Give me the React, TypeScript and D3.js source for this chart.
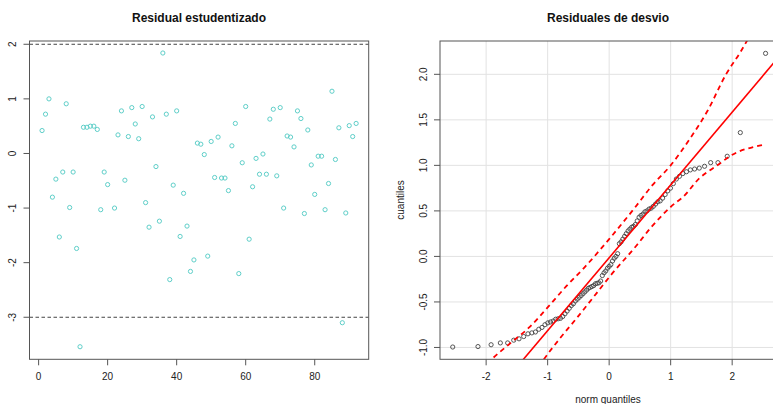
import { scaleLinear, line, curveMonotoneX } from "d3";

// left panel: studentized residuals by observation index (obs 21 is missing)
const studentized: (number | null)[] = [
  0.42, 0.72, 1.0, -0.8, -0.47, -1.53, -0.34, 0.91, -0.99, -0.34,
  -1.74, -3.54, 0.48, 0.48, 0.5, 0.5, 0.44, -1.03, -0.34, -0.57,
  null, -1.0, 0.34, 0.78, -0.49, 0.31, 0.84, 0.54, 0.27, 0.86,
  -0.9, -1.35, 0.67, -0.24, -1.24, 1.84, 0.72, -2.31, -0.58, 0.78,
  -1.52, -0.73, -1.33, -2.16, -1.95, 0.19, 0.17, -0.02, -1.88, 0.22,
  -0.44, 0.3, -0.45, -0.45, -0.68, 0.14, 0.55, -2.2, -0.17, 0.86,
  -1.57, -0.61, -0.09, -0.38, -0.01, -0.38, 0.63, 0.81, -0.41, 0.84,
  -1.0, 0.32, 0.3, 0.12, 0.78, 0.64, -1.1, 0.43, -0.21, -0.75,
  -0.05, -0.05, -1.03, -0.55, 1.14, -0.11, 0.47, -3.1, -1.09, 0.51,
  0.31, 0.55,
];
const studTicksX = [0, 20, 40, 60, 80];
const studTicksY = [-3, -2, -1, 0, 1, 2];
const studRefLines = [2, -3];

// right panel: sorted deviance residuals
const deviance = [
  -0.995, -0.99, -0.97, -0.95, -0.95, -0.92, -0.905, -0.88, -0.85, -0.84,
  -0.83, -0.8, -0.78, -0.75, -0.73, -0.72, -0.71, -0.69, -0.685, -0.68,
  -0.66, -0.63, -0.6, -0.57, -0.54, -0.52, -0.49, -0.47, -0.45, -0.43,
  -0.41, -0.39, -0.37, -0.35, -0.34, -0.33, -0.32, -0.3, -0.295, -0.29,
  -0.27, -0.21, -0.18, -0.16, -0.13, -0.11, -0.09, -0.05, -0.02, 0.0,
  0.03, 0.14, 0.16, 0.19, 0.22, 0.25, 0.28, 0.3, 0.32, 0.33,
  0.35, 0.39, 0.43, 0.45, 0.465, 0.49, 0.5, 0.52, 0.53, 0.55,
  0.575, 0.6, 0.61, 0.64, 0.68, 0.72, 0.75, 0.8, 0.85, 0.88,
  0.91, 0.93, 0.95, 0.96, 0.97, 0.99, 1.03, 1.03, 1.1, 1.36,
  2.23,
];
const qqTicksX = [-2, -1, 0, 1, 2];
const qqTicksY = [-1, -0.5, 0, 0.5, 1, 1.5, 2];
const qqIntercept = -0.015;
const qqSlope = 0.8;
const upperQ = [-2.54, -2.13, -1.91, -1.6, -1.3, -1.0, -0.7, -0.4, 0.0, 0.4, 0.7, 1.0, 1.3, 1.6, 1.9, 2.13, 2.35];
const upperV = [-1.5, -1.28, -1.13, -0.95, -0.78, -0.56, -0.33, -0.12, 0.19, 0.52, 0.78, 1.0, 1.28, 1.6, 2.0, 2.24, 2.5];
const lowerQ = [-1.3, -1.06, -0.8, -0.53, -0.2, 0.01, 0.445, 0.69, 1.1, 1.18, 1.47, 1.8, 1.96, 2.1, 2.34, 2.54];
const lowerV = [-1.38, -1.13, -0.9, -0.68, -0.4, -0.22, 0.12, 0.325, 0.6, 0.64, 0.86, 1.02, 1.1, 1.15, 1.2, 1.23];

// theoretical normal quantile (Acklam)
function qnorm(p: number) {
  const a = [-39.69683028665376, 220.9460984245205, -275.9285104469687, 138.357751867269, -30.66479806614716, 2.506628277459239];
  const b = [-54.47609879822406, 161.5858368580409, -155.6989798598866, 66.80131188771972, -13.28068155288572];
  const c = [-0.007784894002430293, -0.3223964580411365, -2.400758277161838, -2.549732539343734, 4.374664141464968, 2.938163982698783];
  const d = [0.007784695709041462, 0.3224671290700398, 2.445134137142996, 3.754408661907416];
  const pl = 0.02425;
  if (p < pl) {
    const q = Math.sqrt(-2 * Math.log(p));
    return (((((c[0] * q + c[1]) * q + c[2]) * q + c[3]) * q + c[4]) * q + c[5]) / ((((d[0] * q + d[1]) * q + d[2]) * q + d[3]) * q + 1);
  }
  if (p > 1 - pl) return -qnorm(1 - p);
  const q = p - 0.5;
  const r = q * q;
  return (((((a[0] * r + a[1]) * r + a[2]) * r + a[3]) * r + a[4]) * r + a[5]) * q / (((((b[0] * r + b[1]) * r + b[2]) * r + b[3]) * r + b[4]) * r + 1);
}

const font = "'Liberation Sans', Arial, sans-serif";
const axisColor = "#555";
const textColor = "#222";

export default function App() {
  const width = 773;
  const height = 404;
  const top = 41;
  const bottom = 359.3;

  // left panel
  const x1 = scaleLinear().domain([-2.64, 95.64]).range([29.5, 368.7]);
  const y1 = scaleLinear().domain([-3.77, 2.06]).range([bottom, top]);
  const studPts = studentized
    .map((v, i) => ({ i: i + 1, v }))
    .filter((d) => d.v !== null) as { i: number; v: number }[];

  // right panel
  const x2 = scaleLinear().domain([-2.75, 2.75]).range([440, 778.3]);
  const y2 = scaleLinear().domain([-1.13, 2.366]).range([bottom, top]);
  const n = deviance.length;
  const qqPts = deviance.map((v, i) => ({ q: qnorm((i + 1 - 0.5) / n), v }));
  const band = line<[number, number]>()
    .x((d) => x2(d[0]))
    .y((d) => y2(d[1]))
    .curve(curveMonotoneX);
  const upperPath = band(upperQ.map((q, i) => [q, upperV[i]])) ?? "";
  const lowerPath = band(lowerQ.map((q, i) => [q, lowerV[i]])) ?? "";
  const lineQ = [-2.75, 2.75];
  const refPath =
    line<number>()
      .x((q) => x2(q))
      .y((q) => y2(qqIntercept + qqSlope * q))(lineQ) ?? "";

  return (
    <svg
      width={width}
      height={height}
      style={{ position: "fixed", left: 0, top: 0, background: "#fff" }}
      fontFamily={font}
    >
      <defs>
        <clipPath id="clipL">
          <rect x={x1.range()[0]} y={top} width={x1.range()[1] - x1.range()[0]} height={bottom - top} />
        </clipPath>
        <clipPath id="clipR">
          <rect x={440} y={top} width={width - 440} height={bottom - top} />
        </clipPath>
      </defs>

      {/* left: Residual estudentizado */}
      <text x={199} y={22} textAnchor="middle" fontWeight="bold" fontSize={12} fill="#111">
        Residual estudentizado
      </text>
      <g clipPath="url(#clipL)">
        {studRefLines.map((v) => (
          <line key={v} x1={x1.range()[0]} x2={x1.range()[1]} y1={y1(v)} y2={y1(v)} stroke="#444" strokeDasharray="3.5,2.5" />
        ))}
        {studPts.map((d) => (
          <circle key={d.i} cx={x1(d.i)} cy={y1(d.v)} r={2.1} fill="none" stroke="#5fcfc9" strokeWidth={1} />
        ))}
      </g>
      <rect x={x1.range()[0]} y={top} width={x1.range()[1] - x1.range()[0]} height={bottom - top} fill="none" stroke={axisColor} />
      {studTicksX.map((t) => (
        <g key={t}>
          <line x1={x1(t)} x2={x1(t)} y1={bottom} y2={bottom + 6} stroke={axisColor} />
          <text x={x1(t)} y={380} textAnchor="middle" fontSize={10} fill={textColor}>{t}</text>
        </g>
      ))}
      {studTicksY.map((t) => (
        <g key={t}>
          <line x1={x1.range()[0] - 6} x2={x1.range()[0]} y1={y1(t)} y2={y1(t)} stroke={axisColor} />
          <text transform={`translate(16,${y1(t)}) rotate(-90)`} textAnchor="middle" fontSize={10} fill={textColor}>{t}</text>
        </g>
      ))}

      {/* right: Residuales de desvio */}
      <text x={608} y={22} textAnchor="middle" fontWeight="bold" fontSize={12} fill="#111">
        Residuales de desvio
      </text>
      <g clipPath="url(#clipR)">
        {qqTicksX.map((t) => (
          <line key={`gx${t}`} x1={x2(t)} x2={x2(t)} y1={top} y2={bottom} stroke="#e2e2e2" />
        ))}
        {qqTicksY.map((t) => (
          <line key={`gy${t}`} x1={440} x2={width} y1={y2(t)} y2={y2(t)} stroke="#e2e2e2" />
        ))}
        {qqPts.map((d, i) => (
          <circle key={i} cx={x2(d.q)} cy={y2(d.v)} r={2.1} fill="none" stroke="#444" strokeWidth={0.9} />
        ))}
        <path d={refPath} fill="none" stroke="#ff0000" strokeWidth={1.6} />
        <path d={upperPath} fill="none" stroke="#ff0000" strokeWidth={1.8} strokeDasharray="5,4" />
        <path d={lowerPath} fill="none" stroke="#ff0000" strokeWidth={1.8} strokeDasharray="5,4" />
      </g>
      <rect x={440} y={top} width={x2.range()[1] - 440} height={bottom - top} fill="none" stroke={axisColor} />
      {qqTicksX.map((t) => (
        <g key={t}>
          <line x1={x2(t)} x2={x2(t)} y1={bottom} y2={bottom + 6} stroke={axisColor} />
          <text x={x2(t)} y={380} textAnchor="middle" fontSize={10} fill={textColor}>{t}</text>
        </g>
      ))}
      {qqTicksY.map((t) => (
        <g key={t}>
          <line x1={434} x2={440} y1={y2(t)} y2={y2(t)} stroke={axisColor} />
          <text transform={`translate(427,${y2(t)}) rotate(-90)`} textAnchor="middle" fontSize={10} fill={textColor}>{t.toFixed(1)}</text>
        </g>
      ))}
      <text transform="translate(404,200) rotate(-90)" textAnchor="middle" fontSize={10} fill={textColor}>cuantiles</text>
      <text x={608} y={403} textAnchor="middle" fontSize={10} fill={textColor}>norm quantiles</text>
    </svg>
  );
}
